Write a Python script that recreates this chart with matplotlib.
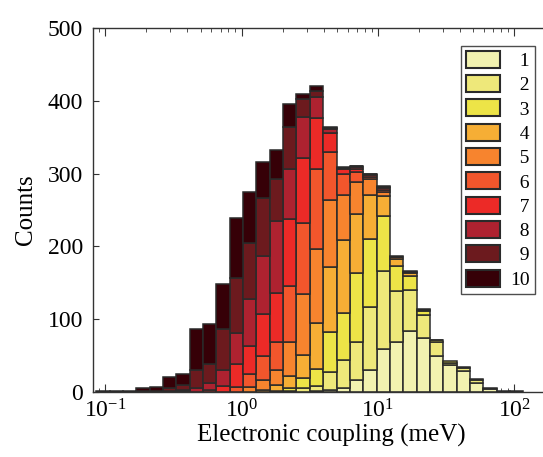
import numpy as np
import matplotlib
matplotlib.use('Agg')
import matplotlib.pyplot as plt

# 32 bins, equal width in log10, from 10^-1.067 to 10^2.067 meV
log_lo, log_hi, n_bins = -1.067, 2.067, 32

s1 = [0, 0, 0, 0, 0, 0, 0, 0, 0, 0, 0, 0, 0, 0, 0, 0, 1, 3, 5, 17, 30, 59, 68, 84, 74, 49, 37, 29, 13, 4, 1, 1]
s2 = [0, 0, 0, 0, 0, 0, 0, 0, 0, 0, 0, 0, 0, 0, 1, 5, 7, 25, 39, 52, 87, 107, 71, 56, 32, 19, 3, 4, 3, 1, 0, 0]
s3 = [0, 0, 0, 0, 0, 0, 0, 0, 0, 0, 0, 0, 0, 1, 5, 14, 23, 55, 64, 94, 93, 76, 34, 19, 5, 3, 2, 2, 2, 0, 0, 0]
s4 = [0, 0, 0, 0, 0, 0, 0, 0, 0, 0, 0, 0, 3, 8, 16, 32, 64, 89, 101, 82, 61, 27, 10, 4, 2, 1, 0, 0, 0, 0, 0, 0]
s5 = [0, 0, 0, 0, 0, 0, 0, 0, 0, 0, 0, 7, 14, 21, 46, 83, 101, 92, 62, 44, 21, 6, 2, 2, 1, 0, 0, 0, 0, 0, 0, 0]
s6 = [0, 0, 0, 0, 0, 0, 0, 0, 0, 0, 7, 18, 33, 39, 78, 98, 110, 65, 29, 13, 4, 3, 1, 1, 0, 0, 0, 0, 0, 0, 0, 0]
s7 = [0, 0, 0, 0, 0, 0, 1, 0, 3, 8, 31, 38, 57, 67, 92, 90, 71, 27, 6, 5, 2, 2, 1, 0, 0, 0, 0, 0, 0, 0, 0, 0]
s8 = [0, 0, 0, 0, 0, 1, 2, 6, 9, 22, 43, 65, 80, 99, 69, 56, 28, 5, 2, 2, 1, 1, 0, 0, 0, 0, 0, 0, 0, 0, 0, 0]
s9 = [0, 0, 0, 1, 1, 4, 7, 24, 26, 56, 75, 76, 79, 57, 57, 24, 9, 2, 1, 1, 1, 1, 0, 0, 0, 0, 0, 0, 0, 0, 0, 0]
s10 = [2, 2, 2, 4, 6, 15, 15, 56, 56, 62, 83, 71, 50, 40, 32, 7, 6, 1, 0, 1, 0, 1, 0, 0, 0, 0, 0, 0, 0, 0, 0, 0]

series = [s1, s2, s3, s4, s5, s6, s7, s8, s9, s10]
labels = ['1', '2', '3', '4', '5', '6', '7', '8', '9', '10']
colors = ['#f2f2b0', '#eee87a', '#ede447', '#f6ae35', '#f7842e', '#f2562c',
          '#ec2a27', '#ae2230', '#6c1a1e', '#360007']

plt.rcParams['font.family'] = ['Liberation Serif', 'DejaVu Serif']
plt.rcParams['mathtext.fontset'] = 'stix'

fig = plt.figure(figsize=(5.43, 4.57), dpi=100)
ax = fig.add_axes([93 / 543, 65 / 457, 477 / 543, 364 / 457])

edges = 10 ** np.linspace(log_lo, log_hi, n_bins + 1)
widths = np.diff(edges)
bottom = np.zeros(n_bins)
for vals, lab, col in zip(series, labels, colors):
    vals = np.array(vals, dtype=float)
    m = vals > 0
    ax.bar(edges[:-1][m], vals[m], width=widths[m], bottom=bottom[m], align='edge',
           color=col, edgecolor='#2a2a2a', linewidth=1.1, label=lab.rjust(2, '\u2007'))
    bottom += vals

ax.set_xscale('log')
ax.set_xlim(10 ** -1.091, 10 ** 2.409)
ax.set_ylim(0, 500)
ax.set_yticks([0, 100, 200, 300, 400, 500])
ax.set_axisbelow(True)

for side in ['left', 'top', 'bottom']:
    ax.spines[side].set_color('#333333')
    ax.spines[side].set_linewidth(1.0)
ax.spines['right'].set_visible(False)

ax.tick_params(axis='x', which='both', direction='in', top=True, bottom=True,
               labelsize=17, pad=5, color='#333333')
ax.tick_params(axis='x', which='major', length=5.5)
ax.tick_params(axis='x', which='minor', length=3)
ax.tick_params(axis='y', direction='in', left=True, right=False, length=4,
               labelsize=17, pad=7, color='#333333')

ax.set_xlabel('Electronic coupling (meV)', fontsize=18, labelpad=1)
ax.set_ylabel('Counts', fontsize=18, labelpad=8)

leg = ax.legend(loc='upper left', bbox_to_anchor=(460.7 / 543, 1 - 46 / 457),
                bbox_transform=fig.transFigure, fontsize=14, frameon=True,
                fancybox=False, edgecolor='#222222', borderaxespad=0,
                borderpad=0.25, handlelength=1.75, handleheight=0.95,
                labelspacing=0.27, handletextpad=0.55)
leg.get_frame().set_linewidth(1.0)
for p in leg.get_patches():
    p.set_linewidth(1.5)

fig.savefig('out.png', dpi=100)
